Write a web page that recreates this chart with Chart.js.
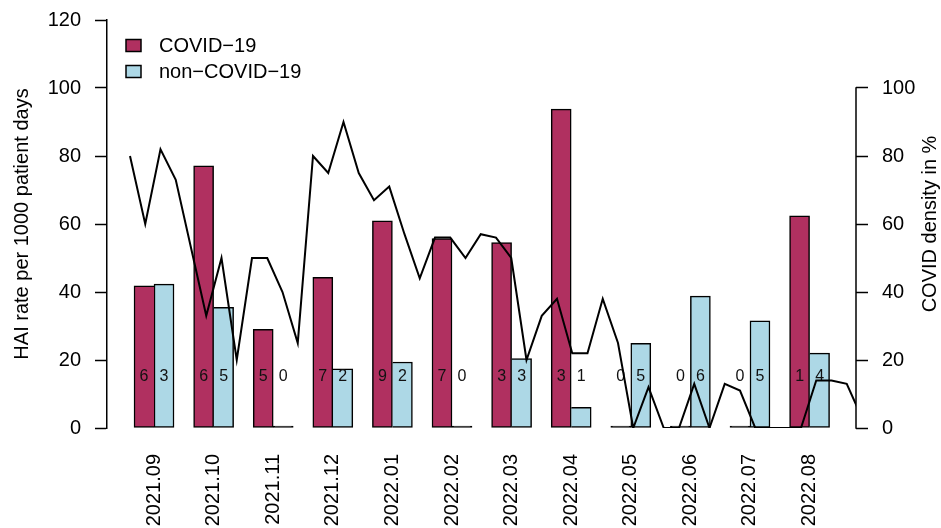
<!DOCTYPE html>
<html>
<head>
<meta charset="utf-8">
<script src="https://cdn.jsdelivr.net/npm/chart.js@4.4.1/dist/chart.umd.min.js"></script>
<style>
  html, body { margin: 0; padding: 0; background: #fff; }
  #wrap { width: 941px; height: 528px; }
</style>
</head>
<body>
<div id="wrap"><canvas id="c" width="941" height="528"></canvas></div>
<script>
// Monthly categories
const months = ['2021.09', '2021.10', '2021.11', '2021.12', '2022.01', '2022.02',
                '2022.03', '2022.04', '2022.05', '2022.06', '2022.07', '2022.08'];

// HAI rate per 1000 patient days
const covidRate    = [41.8, 77.1, 29.0, 44.3, 60.9, 55.7, 54.5, 93.8, 0, 0, 0, 62.4];
const nonCovidRate = [42.3, 35.5, 0, 17.4, 19.4, 0, 20.4, 6.1, 24.9, 38.8, 31.5, 22.0];

// Number of infections per month
const covidCount    = [6, 6, 5, 7, 9, 7, 3, 3, 0, 0, 0, 1];
const nonCovidCount = [3, 5, 0, 2, 2, 0, 3, 1, 5, 6, 5, 4];

// Weekly COVID density in %
const covidDensity = [80, 60, 82, 73, 53, 33, 50, 20, 50, 50, 40, 25,
                      80, 75, 90, 75, 67, 71, 57, 44, 56, 56, 50, 57,
                      56, 50, 20, 33, 38, 22, 22, 38, 25, 0, 12, 0,
                      0, 13, 0, 13, 11, 0, 0, 0, 0, 14, 14, 13, 3];

// Axis ticks
const rateTicks = [0, 20, 40, 60, 80, 100, 120];
const densityTicks = [0, 20, 40, 60, 80, 100];

const FONT = "'Liberation Sans', Arial, Helvetica, sans-serif";
const MAROON = '#B03060';
const LIGHTBLUE = '#ADD8E6';

Chart.defaults.font.family = FONT;
Chart.defaults.color = '#000';

// Month axis range; the two bar series sit on shifted copies of it (half a bar either side)
const MONTH_MIN = -0.789, MONTH_MAX = 11.779, HALF_BAR = 0.1678;

// Count labels inside the bars, axis titles, legend and the right axis line
const decorations = {
  id: 'decorations',
  afterDatasetDraw(chart, args) {
    if (args.index !== 0) return;
    const ctx = chart.ctx;
    const y = chart.scales.y.getPixelForValue(15);
    ctx.save();
    ctx.font = '16px ' + FONT;
    ctx.fillStyle = '#111';
    ctx.textAlign = 'center';
    ctx.textBaseline = 'middle';
    [[0, covidCount], [1, nonCovidCount]].forEach(([di, counts]) => {
      chart.getDatasetMeta(di).data.forEach((bar, i) => {
        ctx.fillText(String(counts[i]), bar.x, y);
      });
    });
    ctx.restore();
  },
  afterDraw(chart) {
    const ctx = chart.ctx;
    const area = chart.chartArea;
    const y2 = chart.scales.y2;
    const midY = (area.top + area.bottom) / 2;
    ctx.save();

    // right axis line spanning its tick range
    ctx.strokeStyle = '#000';
    ctx.lineWidth = 1.5;
    ctx.beginPath();
    ctx.moveTo(area.right, y2.getPixelForValue(densityTicks[0]) + 0.75);
    ctx.lineTo(area.right, y2.getPixelForValue(densityTicks[densityTicks.length - 1]) - 0.75);
    ctx.stroke();

    // axis titles
    ctx.fillStyle = '#000';
    ctx.font = '20px ' + FONT;
    ctx.textAlign = 'center';
    ctx.textBaseline = 'middle';
    ctx.save();
    ctx.translate(22.5, midY);
    ctx.rotate(-Math.PI / 2);
    ctx.fillText('HAI rate per 1000 patient days', 0, 0);
    ctx.restore();
    ctx.save();
    ctx.translate(930, midY);
    ctx.rotate(-Math.PI / 2);
    ctx.fillText('COVID density in %', 0, 0);
    ctx.restore();

    // legend
    const items = chart.data.datasets.filter(d => d.type === 'bar');
    ctx.textAlign = 'left';
    ctx.textBaseline = 'alphabetic';
    items.forEach((d, i) => {
      const top = 39.5 + i * 26;
      ctx.fillStyle = d.fillColor;
      ctx.fillRect(126, top, 15, 12);
      ctx.lineWidth = 1.5;
      ctx.strokeStyle = '#000';
      ctx.strokeRect(126, top, 15, 12);
      ctx.fillStyle = '#000';
      ctx.fillText(d.label, 159, top + 12.5);
    });
    ctx.restore();
  }
};

// empty months collapse to a flat black outline on the baseline
const barFill = (color) => (c) => (c.raw && c.raw.y === 0) ? '#000' : color;

const barStyle = {
  type: 'bar',
  borderColor: '#000',
  borderWidth: 1.5,
  grouped: false,
  barThickness: 20,
  minBarLength: 2,
  yAxisID: 'y'
};

const hiddenMonthAxis = (shift) => ({
  type: 'linear',
  display: false,
  offset: false,
  min: MONTH_MIN + shift,
  max: MONTH_MAX + shift
});

// keep the plot area flush with the layout padding
const noEdgePadding = (width) => (scale) => {
  scale.width = width;
  scale.paddingTop = 0;
  scale.paddingBottom = 0;
};

new Chart(document.getElementById('c'), {
  type: 'bar',
  data: {
    datasets: [
      Object.assign({}, barStyle, {
        label: 'COVID\u221219',
        fillColor: MAROON,
        backgroundColor: barFill(MAROON),
        order: 2,
        xAxisID: 'xc',
        // share the middle edge with the taller neighbour's border
        borderSkipped: (c) => (covidRate[c.dataIndex] > 0 && covidRate[c.dataIndex] < nonCovidRate[c.dataIndex]) ? 'right' : false,
        data: covidRate.map((v, i) => ({ x: i, y: v }))
      }),
      Object.assign({}, barStyle, {
        label: 'non\u2212COVID\u221219',
        fillColor: LIGHTBLUE,
        backgroundColor: barFill(LIGHTBLUE),
        order: 3,
        xAxisID: 'xn',
        borderSkipped: (c) => (nonCovidRate[c.dataIndex] > 0 && covidRate[c.dataIndex] >= nonCovidRate[c.dataIndex]) ? 'left' : false,
        data: nonCovidRate.map((v, i) => ({ x: i, y: v }))
      }),
      {
        type: 'line',
        label: 'COVID density',
        borderColor: '#000',
        borderWidth: 2,
        pointRadius: 0,
        tension: 0,
        fill: false,
        order: 1,
        xAxisID: 'xw',
        yAxisID: 'y2',
        data: covidDensity.map((v, k) => ({ x: k, y: v }))
      }
    ]
  },
  options: {
    responsive: false,
    animation: false,
    layout: { padding: { top: 20, left: 0, right: 0, bottom: 0 } },
    plugins: {
      legend: { display: false },
      tooltip: { enabled: false }
    },
    scales: {
      x: {
        type: 'linear',
        position: 'bottom',
        offset: false,
        min: MONTH_MIN,
        max: MONTH_MAX,
        grid: { display: false, drawTicks: false, offset: false },
        border: { display: false },
        afterBuildTicks: (scale) => { scale.ticks = months.map((m, i) => ({ value: i })); },
        afterFit: (scale) => { scale.height = 100; },
        ticks: {
          autoSkip: false,
          minRotation: 90,
          maxRotation: 90,
          padding: 26,
          font: { size: 20 },
          callback: (v) => months[v]
        }
      },
      xc: hiddenMonthAxis(HALF_BAR),
      xn: hiddenMonthAxis(-HALF_BAR),
      xw: {
        type: 'linear',
        display: false,
        offset: false,
        min: -1.508,
        max: 47.607
      },
      y: {
        type: 'linear',
        position: 'left',
        min: 0,
        max: 120,
        afterBuildTicks: (scale) => { scale.ticks = rateTicks.map(v => ({ value: v })); },
        afterFit: noEdgePadding(107),
        grid: {
          drawOnChartArea: false,
          drawTicks: true,
          tickLength: 12,
          tickWidth: 1.5,
          tickColor: '#000'
        },
        border: { display: true, color: '#000', width: 1.5 },
        ticks: { padding: 14, font: { size: 20 } }
      },
      y2: {
        type: 'linear',
        position: 'right',
        min: 0,
        max: 120,
        afterBuildTicks: (scale) => { scale.ticks = densityTicks.map(v => ({ value: v })); },
        afterFit: noEdgePadding(85),
        grid: {
          drawOnChartArea: false,
          drawTicks: true,
          tickLength: 12,
          tickWidth: 1.5,
          tickColor: '#000'
        },
        border: { display: false },
        ticks: { padding: 14, font: { size: 20 } }
      }
    }
  },
  plugins: [decorations]
});
</script>
</body>
</html>
